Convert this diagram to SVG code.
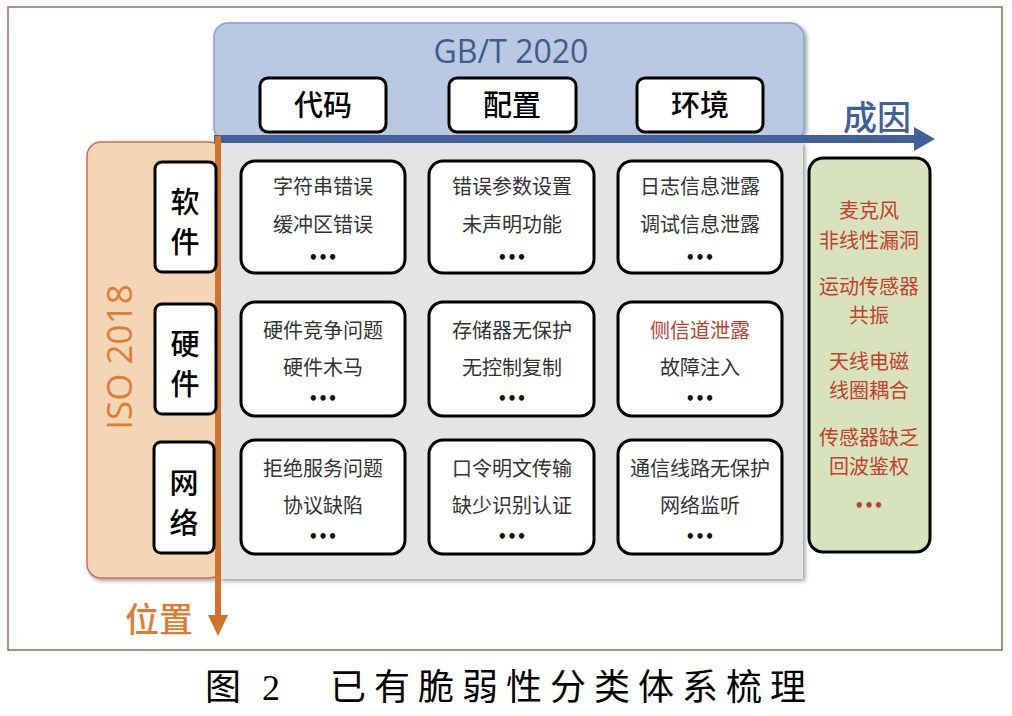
<svg xmlns="http://www.w3.org/2000/svg" width="1012" height="716" viewBox="0 0 1012 716">
<defs>
<filter id="sh" x="-10%" y="-10%" width="130%" height="130%">
<feGaussianBlur in="SourceAlpha" stdDeviation="2"/>
<feOffset dx="2" dy="2" result="b"/>
<feComponentTransfer><feFuncA type="linear" slope="0.4"/></feComponentTransfer>
<feMerge><feMergeNode/><feMergeNode in="SourceGraphic"/></feMerge>
</filter>
</defs>
<style>
.cell{fill:#fff;stroke:#000;stroke-width:3}
.t{font-family:"Noto Sans CJK SC",sans-serif;font-size:20px;fill:#333;text-anchor:middle}
.r{fill:#c0402e}
.h{font-family:"Noto Sans CJK SC",sans-serif;font-size:29px;font-weight:500;fill:#000;text-anchor:middle}
.d{font-family:"DejaVu Sans",sans-serif;font-size:15px;font-weight:bold;fill:#111;text-anchor:middle}
</style>
<rect width="1012" height="716" fill="#fff"/>
<rect x="8" y="7" width="994" height="643" fill="none" stroke="#9b6a55" stroke-width="1.5"/>

<g id="gbt">
<rect x="214" y="23" width="590" height="118" rx="14" fill="#b9c9e1" stroke="#88a2cc" stroke-width="1.5" filter="url(#sh)"/>
<text x="511" y="63" font-family="Open Sans,sans-serif" font-size="32" fill="#3f5c8f" text-anchor="middle">GB/T 2020</text>
</g>
<g id="iso">
<rect x="87" y="142" width="136" height="436" rx="14" fill="#f4d5b6" stroke="#c8705a" stroke-width="1.5" filter="url(#sh)"/>
<text transform="translate(132,357) rotate(-90)" font-family="Open Sans,sans-serif" font-size="35" fill="#e17c33" text-anchor="middle">ISO 2018</text>
</g>
<g id="grid-bg">
<rect x="219" y="142" width="584" height="437" fill="#e4e4e4" filter="url(#sh)"/>
</g>

<g id="connectors">
<line x1="214" y1="139" x2="918" y2="139" stroke="#41609a" stroke-width="8"/>
<path d="M914,127 L935,139 L914,151 z" fill="#41609a"/>
<line x1="218" y1="136" x2="218" y2="618" stroke="#d4722c" stroke-width="6"/>
<path d="M208,615 L218,636 L228,615 z" fill="#d4722c"/>
</g>

<g id="axis-labels">
<text x="877" y="130" font-family="Noto Sans CJK SC,sans-serif" font-size="34" font-weight="500" fill="#41609a" text-anchor="middle">成因</text>
<text x="159" y="632" font-family="Noto Sans CJK SC,sans-serif" font-size="34" font-weight="500" fill="#e17c33" text-anchor="middle">位置</text>
</g>

<g id="h-code"><rect x="260" y="78" width="126" height="54" rx="8" class="cell"/><text x="323" y="116" class="h">代码</text></g>
<g id="h-conf"><rect x="449" y="78" width="127" height="54" rx="8" class="cell"/><text x="512" y="116" class="h">配置</text></g>
<g id="h-env"><rect x="637" y="78" width="126" height="54" rx="8" class="cell"/><text x="700" y="116" class="h">环境</text></g>

<g id="r-sw"><rect x="155" y="162" width="61" height="110" rx="7" class="cell"/><text x="185" y="213" class="h">软</text><text x="185" y="253" class="h">件</text></g>
<g id="r-hw"><rect x="155" y="304" width="61" height="110" rx="7" class="cell"/><text x="185" y="355" class="h">硬</text><text x="185" y="395" class="h">件</text></g>
<g id="r-net"><rect x="154" y="442" width="60" height="111" rx="7" class="cell"/><text x="184" y="494" class="h">网</text><text x="184" y="534" class="h">络</text></g>

<g id="c11"><rect x="241" y="161" width="164" height="112" rx="14" class="cell"/><text x="323" y="194" class="t">字符串错误</text><text x="323" y="232" class="t">缓冲区错误</text><text x="323" y="263" class="d">•••</text></g>
<g id="c12"><rect x="429" y="161" width="165" height="112" rx="14" class="cell"/><text x="512" y="194" class="t">错误参数设置</text><text x="512" y="232" class="t">未声明功能</text><text x="512" y="263" class="d">•••</text></g>
<g id="c13"><rect x="618" y="161" width="164" height="112" rx="14" class="cell"/><text x="700" y="194" class="t">日志信息泄露</text><text x="700" y="232" class="t">调试信息泄露</text><text x="700" y="263" class="d">•••</text></g>

<g id="c21"><rect x="241" y="302" width="164" height="114" rx="14" class="cell"/><text x="323" y="338" class="t">硬件竞争问题</text><text x="323" y="375" class="t">硬件木马</text><text x="323" y="404" class="d">•••</text></g>
<g id="c22"><rect x="429" y="302" width="165" height="114" rx="14" class="cell"/><text x="512" y="338" class="t">存储器无保护</text><text x="512" y="375" class="t">无控制复制</text><text x="512" y="404" class="d">•••</text></g>
<g id="c23"><rect x="618" y="302" width="164" height="114" rx="14" class="cell"/><text x="700" y="338" class="t r">侧信道泄露</text><text x="700" y="375" class="t">故障注入</text><text x="700" y="404" class="d">•••</text></g>

<g id="c31"><rect x="241" y="440" width="164" height="114" rx="14" class="cell"/><text x="323" y="476" class="t">拒绝服务问题</text><text x="323" y="513" class="t">协议缺陷</text><text x="323" y="542" class="d">•••</text></g>
<g id="c32"><rect x="429" y="440" width="165" height="114" rx="14" class="cell"/><text x="512" y="476" class="t">口令明文传输</text><text x="512" y="513" class="t">缺少识别认证</text><text x="512" y="542" class="d">•••</text></g>
<g id="c33"><rect x="618" y="440" width="164" height="114" rx="14" class="cell"/><text x="700" y="476" class="t">通信线路无保护</text><text x="700" y="513" class="t">网络监听</text><text x="700" y="542" class="d">•••</text></g>

<g id="physical">
<rect x="809" y="158" width="121" height="394" rx="14" fill="#d8e3bd" stroke="#000" stroke-width="3"/>
<text x="869" y="218" class="t r">麦克风</text>
<text x="869" y="248" class="t r">非线性漏洞</text>
<text x="869" y="294" class="t r">运动传感器</text>
<text x="869" y="323" class="t r">共振</text>
<text x="869" y="369" class="t r">天线电磁</text>
<text x="869" y="398" class="t r">线圈耦合</text>
<text x="869" y="445" class="t r">传感器缺乏</text>
<text x="869" y="474" class="t r">回波鉴权</text>
<text x="869" y="511" class="d" style="fill:#c0402e">•••</text>
</g>

<g id="caption" font-family="Liberation Serif,Noto Sans CJK SC,serif" font-size="36" fill="#000">
<text x="205" y="700">图</text>
<text x="262" y="700">2</text>
<text x="330" y="700" letter-spacing="8">已有脆弱性分类体系梳理</text>
</g>
</svg>
